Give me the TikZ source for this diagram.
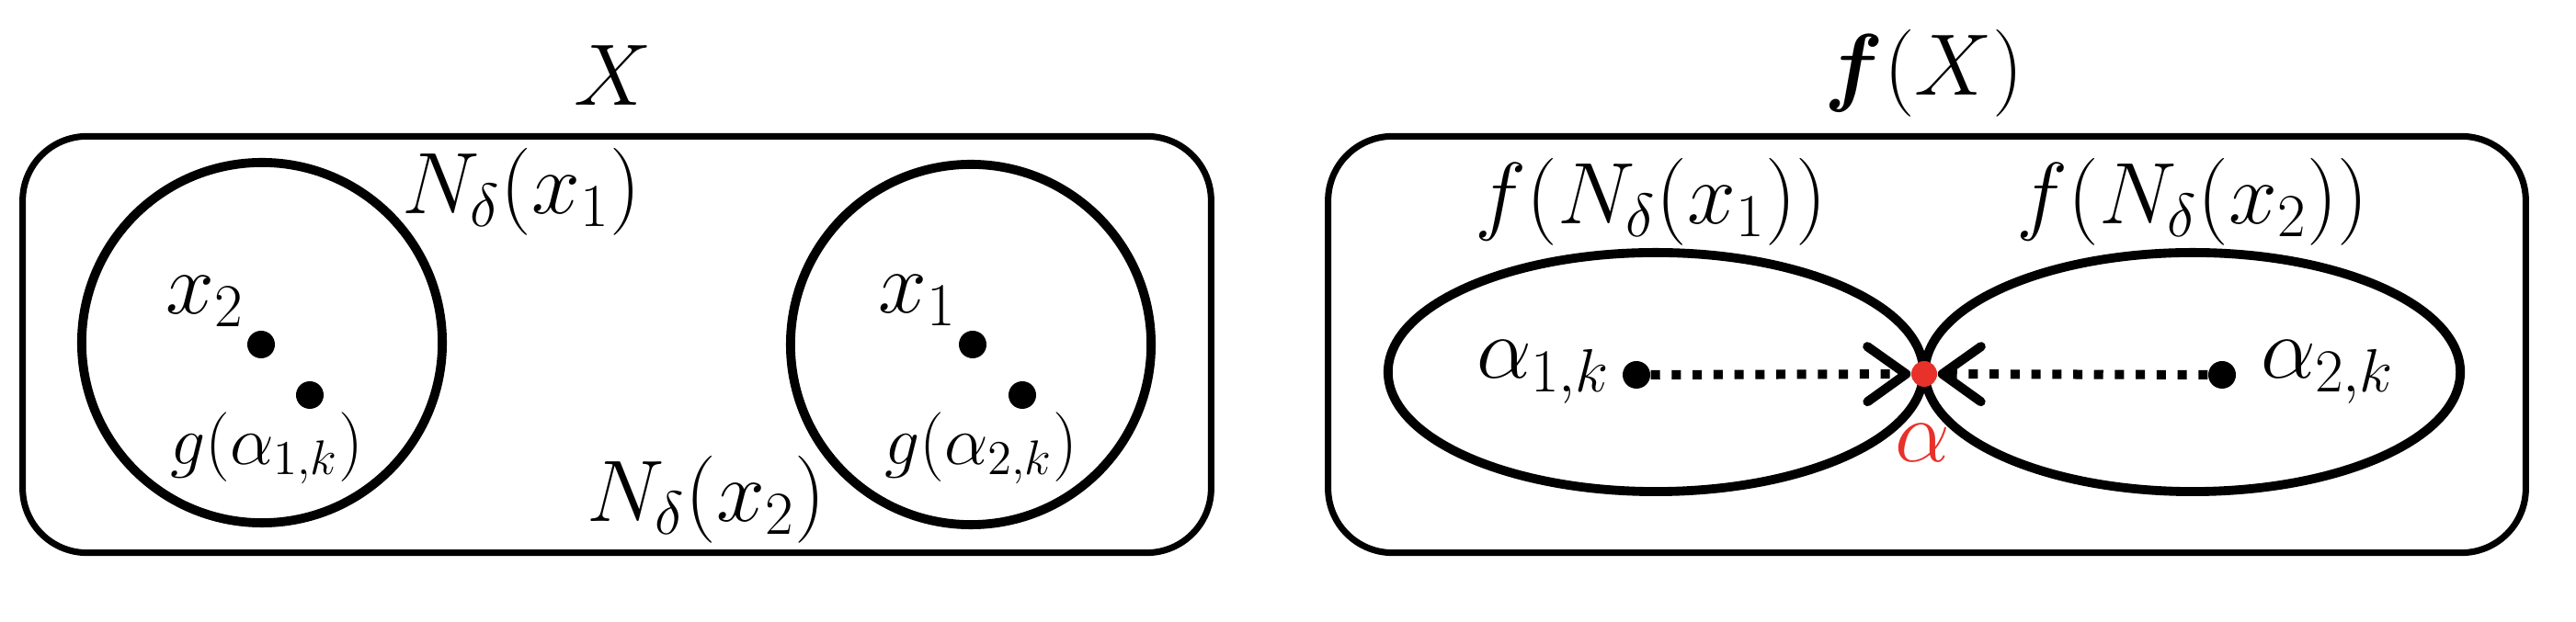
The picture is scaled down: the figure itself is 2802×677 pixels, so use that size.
\RequirePackage{fix-cm}
\documentclass[tikz,border=0pt]{standalone}
\usepackage{amsmath}
\usepackage{bm}
\usetikzlibrary{shapes.geometric,arrows.meta}
\definecolor{alphared}{HTML}{E8312A}
\tikzset{
  panel/.style={draw, line width=2pt, rounded corners=0.7cm, inner sep=0pt},
  nbhd/.style={draw, circle, line width=2.8pt, inner sep=0pt, minimum size=3.92cm},
  image/.style={draw, ellipse, line width=2.8pt, inner sep=0pt, minimum width=5.82cm, minimum height=2.6cm},
  pt/.style={circle, fill=black, inner sep=0pt, minimum size=0.3cm},
  redpt/.style={circle, fill=alphared, inner sep=0pt, minimum size=0.28cm},
  lab/.style={inner sep=1pt, font=\fontsize{27}{32}\selectfont},
  slab/.style={inner sep=1pt, font=\fontsize{21.5}{26}\selectfont},
  dotline/.style={line width=0.1cm, dash pattern=on 0.1cm off 0.127cm},
  tip/.style={-{Straight Barb[length=0.42cm, width=0.6cm, line width=0.1cm, round]}}
}
\begin{document}
\begin{tikzpicture}[x=0.01cm, y=-0.01cm]
\useasboundingbox (0,0) rectangle (2802,677);
% left panel
\node[panel, minimum width=12.92cm, minimum height=4.53cm] (L) at (671,375) {};
\node[lab] (tX) at (667,82) {$X$};
\node[nbhd] (N1) at (285,373) {};
\node[nbhd] (N2) at (1056,375) {};
\node[pt] (x2) at (284,375) {};
\node[pt] (g1) at (337,430) {};
\node[pt] (x1) at (1058,375) {};
\node[pt] (g2) at (1112,430) {};
\node[lab] (lx2) at (223,328) {$x_2$};
\node[lab] (lx1) at (998,327) {$x_1$};
\node[slab] (lg1) at (290,488) {$g(\alpha_{1,k})$};
\node[slab] (lg2) at (1067,488) {$g(\alpha_{2,k})$};
\node[lab] (lN1) at (567,209) {$N_\delta(x_1)$};
\node[lab] (lN2) at (768,544) {$N_\delta(x_2)$};
% right panel
\node[panel, minimum width=13.02cm, minimum height=4.53cm] (R) at (2096,375) {};
\node[lab] (tfX) at (2093,80) {$\bm{f}(X)$};
\node[image] (E1) at (1801,405) {};
\node[image] (E2) at (2385,405) {};
\node[lab] (lE1) at (1796,220) {$f(N_\delta(x_1))$};
\node[lab] (lE2) at (2385,220) {$f(N_\delta(x_2))$};
\node[pt] (a1) at (1780,408) {};
\node[pt] (a2) at (2417,408) {};
\node[redpt] (al) at (2093,407) {};
\node[lab] (la1) at (1679,405) {$\alpha_{1,k}$};
\node[lab] (la2) at (2532,405) {$\alpha_{2,k}$};
\node[lab, text=alphared] (lal) at (2091,482) {$\alpha$};
\draw[dotline, tip] (a1) -- (al);
\draw[dotline, tip] (a2) -- (al);
\end{tikzpicture}
\end{document}
